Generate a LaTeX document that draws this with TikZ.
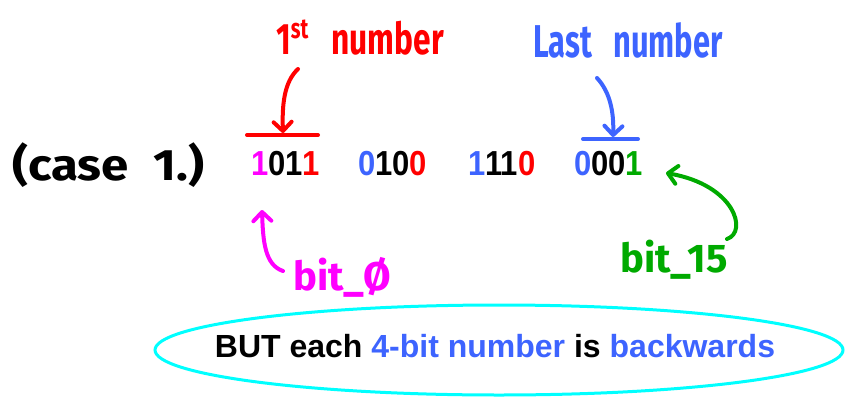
\documentclass[tikz,border=0pt]{standalone}
\usepackage{fontspec}
\setmainfont{Liberation Sans}
\newfontfamily\hand{Fira Sans}
\usetikzlibrary{arrows.meta,shapes.geometric}
\definecolor{mag}{RGB}{255,0,255}
\definecolor{rd}{RGB}{255,0,0}
\definecolor{bl}{RGB}{61,100,255}
\definecolor{gr}{RGB}{0,170,0}
\definecolor{cy}{RGB}{0,255,255}
\begin{document}
\begin{tikzpicture}[x=1pt,y=-1pt,
  digits/.style={font=\fontsize{31}{31}\selectfont\bfseries, inner sep=0pt, anchor=base west},
  handtext/.style={font=\hand\bfseries\fontsize{40}{40}\selectfont, inner sep=0pt, anchor=base west},
  pen/.style={line width=4pt, line cap=round, line join=round},
  barb/.style={-{Straight Barb[round,length=9pt,width=18pt]}}
]
\useasboundingbox (0,0) rectangle (845,396);

% left label
\node[handtext, font=\hand\bfseries\fontsize{44}{44}\selectfont] (case) at (12,180) {\scalebox{1.12}[1]{(case\hspace{22pt}1.)}};

% digit groups
\node[digits] (g1) at (251,175) {\scalebox{1}[1.12]{\textcolor{mag}{1}01\textcolor{rd}{1}}};
\node[digits] (g2) at (358,175) {\scalebox{1}[1.12]{\textcolor{bl}{0}10\textcolor{rd}{0}}};
\node[digits] (g3) at (468,175) {\scalebox{1}[1.12]{\textcolor{bl}{1}11\textcolor{rd}{0}}};
\node[digits] (g4) at (574,175) {\scalebox{1}[1.12]{\textcolor{bl}{0}00\textcolor{gr}{1}}};

% labels
\node[handtext, text=rd, font=\hand\bfseries\fontsize{44}{44}\selectfont] (first) at (276,55) {\scalebox{0.72}[1]{1\raisebox{16pt}{\fontsize{28}{28}\selectfont st}\hspace{32pt}number}};
\node[handtext, text=bl, font=\hand\bfseries\fontsize{46}{46}\selectfont] (last) at (533,58) {\scalebox{0.67}[1]{Last\hspace{32pt}number}};
\node[handtext, text=mag] (bit0) at (293,290) {bit\_Ø};
\node[handtext, text=gr] (bit15) at (620,272) {bit\_15};

% bars
\coordinate (r1) at (247,135);
\coordinate (r2) at (318,135);
\coordinate (b1) at (583,139);
\coordinate (b2) at (638,139);
\draw[pen, rd] (r1) -- (r2);
\draw[pen, bl] (b1) -- (b2);

% arrows
\coordinate (ra) at (298,69);
\coordinate (rb) at (283,133);
\draw[pen, rd, barb] (ra) .. controls (284,82) and (282,105) .. (rb);

\coordinate (ba) at (597,78);
\coordinate (bb) at (613,137);
\draw[pen, bl, barb] (ba) .. controls (610,92) and (614,112) .. (bb);

\coordinate (ga) at (727,239);
\coordinate (gb) at (666,173);
\draw[pen, gr, barb] (ga) .. controls (748,232) and (735,185) .. (gb);

\coordinate (ma) at (283,271);
\coordinate (mb) at (262,210);
\draw[pen, mag, barb] (ma) .. controls (265,265) and (263,242) .. (mb);

% oval and message
\node[draw=cy, line width=3pt, ellipse, minimum width=688pt, minimum height=90pt, inner sep=0pt] (oval) at (499,350) {};
\node[font=\fontsize{32}{32}\selectfont\bfseries, inner sep=0pt, anchor=base] (msg) at (495,357) {BUT each \textcolor{bl}{4-bit number} is \textcolor{bl}{backwards}};
\end{tikzpicture}
\end{document}
